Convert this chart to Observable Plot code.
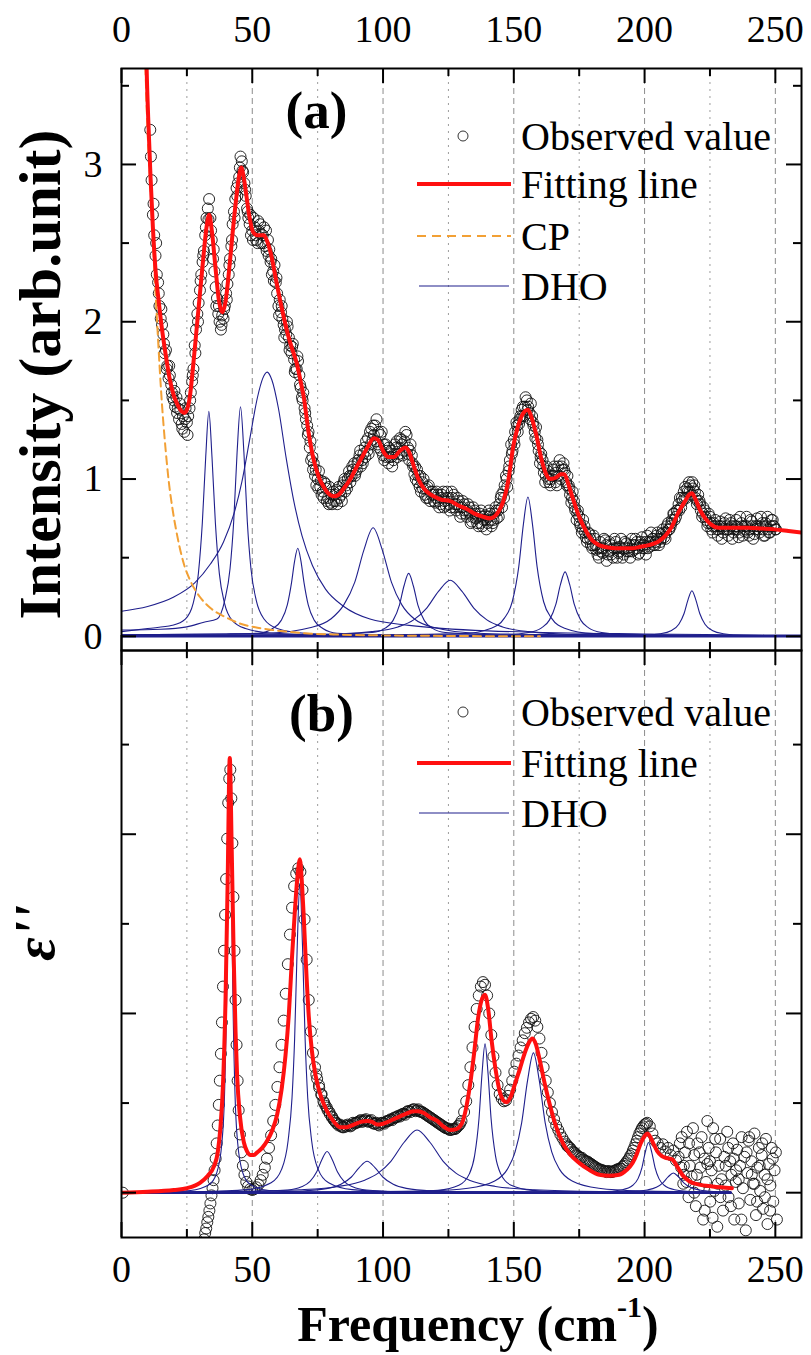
<!DOCTYPE html>
<html><head><meta charset="utf-8">
<script src="https://cdn.jsdelivr.net/npm/d3@7"></script>
<script src="https://cdn.jsdelivr.net/npm/@observablehq/plot@0.6"></script>
<style>
html,body{margin:0;padding:0;background:#fff;}
#chart{width:811px;height:1355px;position:relative;}
#chart svg{display:block;overflow:visible;}
</style></head><body><div id="chart"></div>
<script>
// ---------- axis ticks ----------
const xTicksMajor = [0, 50, 100, 150, 200, 250];
const xTicksMinor = [25, 75, 125, 175, 225];
const gridMajor = [50, 100, 150, 200, 250];
const gridMinor = [25, 75, 125, 175, 225];
const yTicksAMajor = [0, 1, 2, 3];
const yTicksAMinor = [0.5, 1.5, 2.5, 3.5];
const yTicksBMajor = [0, 2, 4];
const yTicksBMinor = [1, 3, 5];

// ---------- panel (a) observed (measurement grid 1 cm-1, three interleaved sets) ----------
const obsA1Start = 11, obsA2Start = 11.5, obsA3Start = 11.25, obsStep = 1;
const obsA1 = [
3.22,2.68,2.42,2.25,2.02,1.92,1.82,1.64,1.60,1.50,
1.52,1.38,1.35,1.30,1.36,1.45,1.62,1.85,2.05,2.20,
2.38,2.55,2.72,2.66,2.40,2.22,2.05,1.95,2.02,2.18,
2.30,2.48,2.70,2.85,2.92,3.02,2.88,2.72,2.62,2.58,
2.60,2.50,2.62,2.55,2.48,2.52,2.38,2.32,2.25,2.10,
2.06,1.98,1.92,1.90,1.80,1.76,1.70,1.66,1.52,1.45,
1.34,1.20,1.14,1.02,1.00,0.95,0.92,0.97,0.88,0.85,
0.92,0.86,0.95,0.90,0.98,0.96,1.05,1.02,1.10,1.06,
1.15,1.12,1.20,1.18,1.30,1.25,1.34,1.22,1.28,1.15,
1.22,1.10,1.18,1.12,1.20,1.16,1.25,1.18,1.28,1.12,
1.15,1.03,1.06,0.95,0.98,0.90,0.95,0.86,0.92,0.85,
0.90,0.84,0.92,0.83,0.88,0.82,0.90,0.80,0.86,0.78,
0.84,0.76,0.82,0.73,0.80,0.72,0.78,0.70,0.77,0.72,
0.78,0.72,0.82,0.80,0.88,0.92,1.02,1.05,1.22,1.25,
1.36,1.35,1.44,1.40,1.50,1.42,1.40,1.30,1.25,1.10,
1.12,0.98,1.05,0.96,1.06,0.98,1.08,1.00,1.10,0.98,
0.96,0.85,0.86,0.74,0.76,0.66,0.70,0.60,0.65,0.56,
0.62,0.52,0.60,0.53,0.61,0.52,0.58,0.50,0.60,0.53,
0.62,0.52,0.59,0.54,0.62,0.55,0.60,0.53,0.63,0.56,
0.64,0.57,0.62,0.58,0.66,0.60,0.68,0.62,0.72,0.70,
0.78,0.76,0.84,0.82,0.92,0.88,0.98,0.90,0.96,0.84,
0.86,0.76,0.80,0.70,0.76,0.66,0.74,0.64,0.73,0.66,
0.75,0.64,0.72,0.66,0.74,0.63,0.72,0.67,0.76,0.64,
0.73,0.65,0.75,0.66,0.72,0.64,0.76,0.66,0.74,0.68];
const obsA2 = [
2.90,2.55,2.30,2.10,1.98,1.80,1.72,1.66,1.52,1.46,
1.45,1.44,1.40,1.45,1.40,1.55,1.70,1.95,2.12,2.30,
2.45,2.66,2.78,2.52,2.32,2.15,2.00,2.04,2.10,2.24,
2.40,2.62,2.78,2.88,3.05,2.95,2.80,2.66,2.55,2.66,
2.52,2.58,2.50,2.60,2.45,2.46,2.30,2.36,2.18,2.14,
2.02,1.95,1.97,1.85,1.86,1.70,1.75,1.58,1.55,1.38,
1.30,1.12,1.10,0.96,1.05,0.90,0.98,0.86,0.95,0.84,
0.90,0.84,0.92,0.96,0.92,1.00,0.98,1.06,1.04,1.12,
1.08,1.16,1.24,1.16,1.32,1.28,1.38,1.20,1.30,1.12,
1.18,1.14,1.08,1.22,1.14,1.26,1.15,1.30,1.20,1.22,
1.08,1.00,1.02,0.92,1.00,0.88,0.96,0.90,0.86,0.92,
0.82,0.90,0.86,0.92,0.80,0.88,0.84,0.88,0.76,0.86,
0.78,0.84,0.72,0.82,0.75,0.70,0.80,0.74,0.68,0.80,
0.70,0.78,0.75,0.84,0.82,0.96,0.95,1.12,1.18,1.30,
1.30,1.40,1.46,1.52,1.46,1.48,1.34,1.33,1.18,1.16,
1.04,1.08,0.98,1.02,1.08,0.96,1.12,1.06,1.04,1.02,
0.90,0.92,0.80,0.80,0.70,0.74,0.63,0.66,0.58,0.64,
0.55,0.50,0.56,0.62,0.48,0.60,0.55,0.62,0.50,0.57,
0.50,0.60,0.56,0.50,0.58,0.62,0.52,0.60,0.58,0.52,
0.60,0.66,0.58,0.64,0.58,0.65,0.63,0.70,0.68,0.74,
0.74,0.80,0.88,0.86,0.95,0.92,0.96,0.94,0.88,0.90,
0.80,0.82,0.74,0.78,0.68,0.72,0.68,0.70,0.62,0.72,
0.68,0.74,0.62,0.70,0.68,0.76,0.64,0.70,0.66,0.74,
0.62,0.70,0.68,0.76,0.64,0.70,0.66,0.74,0.70];
const obsA3 = [
3.05,2.75,2.50,2.18,2.08,1.86,1.70,1.72,1.55,1.56,
1.42,1.48,1.32,1.38,1.28,1.50,1.66,1.80,2.00,2.26,
2.42,2.60,2.65,2.58,2.46,2.10,2.10,1.98,2.08,2.14,
2.36,2.52,2.66,2.80,2.98,2.96,2.84,2.70,2.68,2.52,
2.55,2.64,2.56,2.50,2.58,2.42,2.40,2.26,2.28,2.04,
2.10,1.90,2.00,1.82,1.84,1.68,1.78,1.60,1.50,1.42,
1.28,1.24,1.06,1.06,0.94,0.99,0.88,0.94,0.84,0.90,
0.86,0.93,0.88,0.86,1.00,0.94,1.02,1.08,1.02,1.10,
1.18,1.10,1.14,1.26,1.22,1.34,1.24,1.30,1.18,1.22,
1.14,1.20,1.14,1.16,1.24,1.20,1.22,1.24,1.16,1.18,
1.10,1.08,0.98,1.02,0.94,0.94,0.88,0.92,0.90,0.88,
0.86,0.88,0.82,0.88,0.84,0.92,0.82,0.84,0.82,0.82,
0.80,0.80,0.78,0.76,0.78,0.76,0.72,0.76,0.74,0.76,
0.74,0.74,0.80,0.76,0.90,0.88,1.00,1.08,1.16,1.22,
1.34,1.38,1.40,1.46,1.44,1.38,1.36,1.26,1.22,1.14,
1.08,1.02,1.00,1.00,1.02,1.04,1.02,1.08,1.06,0.96,
0.94,0.88,0.82,0.78,0.72,0.68,0.66,0.62,0.62,0.58,
0.58,0.56,0.54,0.56,0.58,0.54,0.52,0.56,0.56,0.54,
0.56,0.56,0.54,0.58,0.54,0.58,0.56,0.58,0.56,0.60,
0.56,0.60,0.62,0.60,0.62,0.62,0.66,0.66,0.68,0.72,
0.78,0.80,0.80,0.88,0.88,0.94,0.92,0.98,0.92,0.86,
0.84,0.78,0.76,0.72,0.72,0.70,0.70,0.68,0.70,0.68,
0.70,0.68,0.70,0.68,0.70,0.66,0.70,0.68,0.70,0.68,
0.70,0.68,0.70,0.70,0.68,0.72,0.68,0.70,0.70,0.68];

// ---------- panel (a) fitting line ----------
const fitA = [[9.0,4.2],[9.6,3.62],[10.2,3.3],[11.1,2.92],[12,2.6],[13,2.33],[14.3,2.12],[15.5,1.95],[17,1.78],[18.5,1.63],[20,1.53],[21.5,1.47],[23,1.43],[24,1.42],[25,1.44],[26.1,1.52],[27.4,1.72],[28.7,1.95],[30,2.18],[31.3,2.41],[32.5,2.6],[33.5,2.68],[34.6,2.57],[35.9,2.35],[37.2,2.14],[38.5,2.06],[39.8,2.13],[41.1,2.32],[42.4,2.55],[43.7,2.76],[45,2.93],[45.8,2.98],[46.6,2.93],[47.6,2.82],[48.9,2.67],[50.3,2.57],[52,2.55],[54.4,2.55],[55.5,2.52],[57,2.44],[59.5,2.23],[61.5,2.07],[63.3,1.94],[65,1.84],[67.1,1.73],[68.5,1.62],[69.7,1.52],[71.5,1.30],[73.5,1.12],[75.5,1.01],[77.3,0.95],[79,0.91],[81.2,0.89],[83,0.9],[85,0.94],[87.5,1.0],[90,1.08],[92,1.14],[94,1.2],[96.5,1.26],[98,1.25],[100.3,1.17],[102,1.14],[104.1,1.14],[106.5,1.18],[108.6,1.20],[110,1.17],[111.8,1.08],[113.5,1.0],[115.6,0.94],[117.5,0.91],[119.4,0.89],[122,0.87],[125.7,0.86],[129,0.83],[132,0.81],[135,0.78],[138.3,0.76],[141,0.75],[142.5,0.76],[144,0.79],[146,0.86],[148,1.0],[149.7,1.2],[151.5,1.33],[153,1.40],[155.4,1.44],[157,1.38],[158.6,1.28],[160.5,1.13],[162.4,1.03],[164,1.0],[166.2,1.01],[168,1.03],[169.3,1.03],[171,0.96],[172.5,0.88],[175,0.76],[177.6,0.67],[180,0.61],[182.6,0.58],[186,0.565],[189,0.56],[192,0.56],[195.3,0.56],[198.5,0.57],[201.6,0.58],[205,0.6],[208,0.64],[210.5,0.7],[213,0.79],[215.5,0.86],[217,0.9],[218.1,0.91],[219.5,0.87],[221.3,0.80],[223.2,0.75],[225.5,0.71],[228.2,0.69],[233,0.69],[239.6,0.69],[245,0.685],[249.7,0.68],[255,0.67],[260,0.66]];

// ---------- panel (a) CP ----------
const cpA = [[8.5,4.2],[9.2,3.6],[10,3.2],[11.1,2.85],[12.4,2.39],[13.9,1.91],[15.5,1.47],[16.8,1.2],[18.1,0.98],[19.6,0.8],[21.3,0.64],[23.5,0.48],[26.4,0.35],[30,0.25],[34,0.18],[40,0.12],[45.5,0.08],[52,0.055],[58,0.04],[70,0.02],[81,0.012],[100,0.006],[130,0.002],[160,0]];

// ---------- panel (a) DHO components ----------
const dhoA1 = [[0,0.03],[10,0.05],[19.4,0.07],[24.4,0.11],[27.4,0.21],[29.4,0.40],[30.9,0.72],[32.2,1.14],[33.4,1.43],[34.6,1.14],[35.9,0.72],[37.4,0.40],[39.4,0.21],[42.4,0.10],[47.4,0.05],[58,0.02],[100,0.005],[260,0]];
const dhoA2 = [[0,0.04],[15,0.045],[25,0.06],[31.5,0.09],[36.5,0.11],[39.5,0.23],[41.5,0.43],[42.9,0.73],[44.2,1.17],[45.5,1.46],[46.8,1.17],[48.1,0.73],[49.5,0.43],[51.5,0.23],[54.5,0.11],[59.5,0.05],[70,0.02],[100,0.006],[260,0]];
const dhoA3 = [[0,0.16],[10,0.19],[20,0.25],[28,0.34],[34,0.46],[39,0.60],[43,0.78],[46,0.98],[49,1.25],[52,1.52],[54,1.64],[55.7,1.68],[57.5,1.63],[60,1.45],[63,1.13],[66,0.85],[69,0.64],[73,0.45],[78,0.30],[85,0.19],[95,0.11],[110,0.07],[140,0.035],[200,0.015],[260,0.008]];
const dhoA4 = [[0,0.01],[40,0.015],[52.4,0.02],[57.8,0.05],[61,0.10],[63.4,0.20],[65,0.34],[66.2,0.48],[67.4,0.56],[68.6,0.48],[69.8,0.34],[71.4,0.20],[73.8,0.10],[77,0.05],[82.4,0.02],[100,0.01],[260,0]];
const dhoA5 = [[0,0.01],[40,0.015],[56,0.02],[72,0.055],[80,0.11],[85,0.20],[89.2,0.345],[92.7,0.55],[96.2,0.69],[99.7,0.55],[103.2,0.345],[107.2,0.20],[112,0.11],[120,0.055],[136,0.02],[170,0.01],[260,0]];
const dhoA6 = [[0,0.005],[70,0.01],[95.8,0.024],[100.8,0.052],[103.8,0.10],[106.3,0.20],[108,0.32],[109.8,0.40],[111.6,0.32],[113.3,0.20],[115.8,0.10],[118.8,0.052],[123.8,0.024],[150,0.008],[260,0]];
const dhoA7 = [[0,0.005],[75,0.011],[95.7,0.03],[105.7,0.06],[111.7,0.105],[116.7,0.18],[121.2,0.286],[125.7,0.357],[130.2,0.286],[134.7,0.18],[139.7,0.105],[145.7,0.06],[155.7,0.03],[175.7,0.011],[260,0.002]];
const dhoA8 = [[0,0.005],[100,0.01],[130.4,0.017],[141.4,0.052],[146.4,0.116],[149.4,0.22],[151.9,0.443],[153.65,0.71],[155.4,0.886],[157.15,0.71],[158.9,0.443],[161.4,0.22],[164.4,0.116],[169.4,0.052],[180.4,0.017],[210,0.006],[260,0.002]];
const dhoA9 = [[0,0.003],[120,0.006],[144.6,0.008],[155.6,0.024],[160.6,0.054],[163.6,0.103],[166.1,0.205],[167.85,0.33],[169.6,0.41],[171.35,0.33],[173.1,0.205],[175.6,0.103],[178.6,0.054],[183.6,0.024],[194.6,0.008],[260,0.002]];
const dhoA10 = [[0,0.002],[160,0.004],[198.1,0.006],[206.1,0.017],[210.1,0.036],[213.1,0.077],[215.1,0.145],[216.6,0.232],[218.1,0.29],[219.6,0.232],[221.1,0.145],[223.1,0.077],[226.1,0.036],[230.1,0.017],[238.1,0.006],[260,0.003]];
const dhoA0 = [[0,0],[260,0]];

// ---------- panel (b) observed ----------
const obsB = [[0.5,0.0],
[31.6,-0.52],[32.0,-0.45],[32.4,-0.40],[32.8,-0.33],[33.2,-0.27],[33.6,-0.2],[34.0,-0.12],[34.4,-0.03],[34.8,0.05],[35.2,0.14],[35.6,0.25],[36.0,0.38],[36.4,0.55],[36.8,0.75],[37.2,0.98],[37.6,1.25],[38.0,1.55],[38.4,1.9],[38.8,2.3],[39.2,2.7],[39.6,3.1],[40.0,3.5],[40.4,3.95],[40.8,4.35],[41.2,4.62],[41.6,4.72],[42.0,4.4],[42.4,3.9],[42.8,3.3],[43.2,2.7],[43.6,2.15],[44.0,1.65],[44.4,1.25],[44.8,0.92],[45.3,0.65],[45.8,0.45],[46.4,0.3],[47.0,0.2],[47.7,0.12],[48.4,0.07],[49.2,0.04],[50.0,0.03],[50.8,0.04],[51.6,0.06],[52.4,0.09],[53.2,0.14],[54.0,0.2],[54.8,0.28],[55.6,0.38],[56.4,0.5],[57.2,0.64],[58.0,0.8],[58.8,0.98],[59.6,1.18],[60.4,1.4],[61.2,1.65],[62.0,1.92],[62.8,2.22],[63.6,2.55],[64.4,2.88],[65.2,3.18],[66.0,3.42],[66.8,3.56],[67.6,3.62],[68.4,3.58],[69.2,3.38],[70.0,3.05],[70.8,2.6],[71.6,2.15],[72.4,1.8],[73.2,1.56],[74.0,1.4],[74.8,1.27],[75.6,1.17],[76.4,1.09],[77.2,1.02],[78.0,0.97],[78.8,0.92],[79.6,0.88],[80.4,0.84],[81.2,0.81],[82,0.78],[83,0.75],[84,0.74],[85,0.73],[86,0.74],[87,0.75],[88,0.75],[89,0.77],[90,0.78],[91,0.8],[92,0.79],[93,0.81],[94,0.80],[95,0.80],[96,0.78],[97,0.77],[98,0.76],[99,0.77],[100,0.78],[101,0.79],[102,0.8],[103,0.82],[104,0.83],[105,0.84],[106,0.86],[107,0.87],[108,0.88],[109,0.9],[110,0.91],[111,0.92],[112,0.93],[113,0.92],[114,0.91],[115,0.9],[116,0.88],[117,0.86],[118,0.84],[119,0.82],[120,0.8],[121,0.78],[122,0.76],[123,0.74],[124,0.72],[125,0.71],[126,0.70],[127,0.71],[128,0.72],[129,0.75],[130,0.8],[131,0.9],[131.8,1.02],[132.6,1.2],[133.4,1.4],[134.2,1.62],[135,1.85],[135.8,2.05],[136.6,2.2],[137.4,2.3],[138.2,2.35],[139,2.32],[139.8,2.2],[140.6,2.0],[141.4,1.76],[142.2,1.52],[143,1.34],[143.8,1.2],[144.6,1.1],[145.4,1.05],[146.2,1.02],[147,1.03],[147.8,1.08],[148.6,1.15],[149.4,1.25],[150.2,1.35],[151,1.44],[151.8,1.53],[152.6,1.62],[153.4,1.7],[154.2,1.78],[155,1.84],[155.8,1.9],[156.6,1.94],[157.4,1.96],[158.2,1.92],[159,1.85],[159.8,1.72],[160.6,1.56],[161.4,1.4],[162.2,1.25],[163,1.12],[163.8,1.0],[164.6,0.9],[165.4,0.82],[166.2,0.75],[167,0.7],[167.8,0.65],[168.6,0.61],[169.4,0.57],[170.2,0.54],[171,0.51],[172,0.48],[173,0.45],[174,0.42],[175,0.4],[176,0.39],[177,0.36],[178,0.35],[179,0.33],[180,0.31],[181,0.29],[182,0.27],[183,0.26],[184,0.25],[185,0.24],[186,0.24],[187,0.23],[188,0.24],[189,0.25],[190,0.26],[191,0.27],[192,0.3],[193,0.34],[194,0.38],[195,0.43],[196,0.5],[197,0.58],[198,0.66],[199,0.72],[200,0.76],[201,0.78],[202,0.74],[203,0.66],[204,0.58],[205,0.55],[206,0.5],[207,0.54],[208,0.46],[209,0.5],[210,0.42],[211,0.47],[212,0.36],[213,0.4],[214,0.28],[215,0.3],[216,0.12],
[74.5,1.32],[75.5,1.2],[76.5,1.1],[77.5,1.0],[78.5,0.95],[79.5,0.9],[80.5,0.85],[81.5,0.8],[82.5,0.77],[83.5,0.76],[84.5,0.73],[85.5,0.75],[86.5,0.76],[87.5,0.74],[88.5,0.78],[89.5,0.78],[90.5,0.79],[91.5,0.81],[92.5,0.80],[93.5,0.82],[94.5,0.79],[95.5,0.81],[96.5,0.77],[97.5,0.78],[98.5,0.75],[99.5,0.78],[100.5,0.77],[101.5,0.80],[102.5,0.81],[103.5,0.81],[104.5,0.84],[105.5,0.85],[106.5,0.85],[107.5,0.88],[108.5,0.87],[109.5,0.91],[110.5,0.90],[111.5,0.93],[112.5,0.91],[113.5,0.93],[114.5,0.90],[115.5,0.89],[116.5,0.87],[117.5,0.85],[118.5,0.83],[119.5,0.81],[120.5,0.79],[121.5,0.77],[122.5,0.75],[123.5,0.73],[124.5,0.72],[125.5,0.70],[126.5,0.71],[127.5,0.71],[128.5,0.74],[129.5,0.77],
[170.5,0.52],[171.5,0.50],[172.5,0.46],[173.5,0.44],[174.5,0.41],[175.5,0.39],[176.5,0.37],[177.5,0.35],[178.5,0.34],[179.5,0.32],[180.5,0.30],[181.5,0.28],[182.5,0.26],[183.5,0.25],[184.5,0.24],[185.5,0.23],[186.5,0.24],[187.5,0.23],[188.5,0.24],[189.5,0.26],[190.5,0.27],[191.5,0.29],[192.5,0.32],[193.5,0.36],[194.5,0.41],[195.5,0.47],[196.5,0.54],[197.5,0.62],[198.5,0.69],[199.5,0.74],[200.5,0.77],
[213.5,0.55],[214.2,0.62],[214.8,0.1],[215.5,0.45],[216.2,0.68],[216.8,-0.05],[217.3,0.3],[218,0.18],[218.5,0.72],[219,0.42],[219.6,-0.15],[220.2,0.55],[220.7,0.05],[221.3,0.28],[221.8,0.62],[222.4,-0.3],[222.9,0.38],[223.5,0.12],[224,0.8],[224.5,0.5],[225.1,-0.1],[225.6,0.25],[226.2,0.72],[226.7,0.02],[227.3,0.45],[227.8,-0.38],[228.3,0.3],[228.9,0.6],[229.4,0.15],[230,-0.2],[230.5,0.4],[231,0.08],[231.6,0.68],[232.1,-0.05],[232.7,0.35],[233.2,0.2],[233.8,0.55],[234.3,-0.3],[234.9,0.12],[235.4,0.48],[236,-0.12],[236.5,0.3],[237.1,0.62],[237.6,0.05],[238.2,0.4],[238.7,-0.42],[239.3,0.22],[239.8,0.58],[240.4,-0.08],[240.9,0.35],[241.5,0.1],[242,0.66],[242.6,-0.25],[243.1,0.28],[243.7,0.5],[244.2,0.02],[244.8,0.42],[245.3,-0.18],[245.9,0.2],[246.4,0.6],[247,-0.35],[247.5,0.32],[248.1,0.08],[248.6,0.5],[249.2,-0.1],[249.7,0.25],[250.2,0.45],[250.6,-0.3],
[215,0.2],[217,0.55],[219,0.0],[221,0.45],[223,-0.2],[225,0.35],[227,0.6],[229,-0.05],[231,0.3],[233,-0.15],[235,0.25],[237,-0.3],[239,0.45],[241,0.2],[243,-0.1],[245,0.55],[247,0.15],[249,0.38],[220,0.2],[224,0.32],[228,0.1],[232,0.5],[236,0.15],[240,0.62],[244,0.3],[248,-0.2],[226,-0.28],[234,0.38],[242,0.1],[246,-0.05]];

// ---------- panel (b) fitting line ----------
const fitB = [[0,0],[10,0.01],[20,0.03],[25,0.05],[30,0.11],[33,0.19],[35.3,0.29],[36.8,0.45],[37.8,0.72],[38.8,1.2],[39.8,2.19],[40.6,3.5],[41.4,4.85],[42.1,3.9],[42.9,2.63],[43.6,1.8],[44.2,1.31],[45.3,0.85],[46.8,0.56],[48,0.46],[49.3,0.42],[50.6,0.42],[51.9,0.45],[53.8,0.5],[55.7,0.58],[57.7,0.7],[59.5,0.87],[61.2,1.15],[62.7,1.53],[64,2.0],[65.2,2.63],[66.3,3.15],[67.2,3.5],[68.2,3.72],[69,3.45],[69.7,3.07],[70.6,2.5],[71.6,1.97],[72.8,1.58],[74.2,1.31],[76.3,1.07],[78.6,0.91],[81,0.8],[83.7,0.73],[86,0.73],[88.8,0.76],[91.5,0.79],[93.9,0.80],[95.8,0.79],[97.7,0.76],[100,0.77],[104.1,0.82],[108,0.87],[111.8,0.91],[113.5,0.91],[115.6,0.89],[118,0.84],[120.7,0.80],[123,0.74],[125.8,0.70],[128,0.71],[130.1,0.77],[131.8,0.95],[133.3,1.21],[134.8,1.55],[136.4,1.96],[137.7,2.15],[139,2.21],[140.2,2.05],[141.5,1.70],[143,1.38],[144.7,1.12],[146,1.03],[147.2,1.01],[148.8,1.07],[150.4,1.21],[152.3,1.38],[154.2,1.56],[155.7,1.67],[157.1,1.72],[158.5,1.65],[159.9,1.48],[161.8,1.22],[163.7,0.99],[166,0.75],[168.8,0.55],[171.5,0.43],[175.1,0.33],[178.5,0.26],[182.7,0.20],[186.5,0.19],[190.3,0.20],[193,0.25],[195.4,0.33],[197,0.43],[198.5,0.55],[200,0.63],[201.1,0.66],[202.2,0.62],[203.5,0.54],[204.9,0.46],[206.5,0.41],[208,0.39],[209.5,0.38],[210.6,0.37],[212.5,0.29],[214.4,0.20],[217,0.13],[220.8,0.09],[226,0.07],[233.4,0.05]];

// ---------- panel (b) DHO components ----------
const dhoB1 = [[0,0],[11.4,0.006],[26.4,0.025],[33.4,0.088],[36.4,0.22],[38.4,0.56],[39.4,1.1],[40.3,2.375],[40.85,3.8],[41.4,4.75],[41.95,3.8],[42.5,2.375],[43.4,1.1],[44.4,0.56],[46.4,0.22],[49.4,0.088],[56.4,0.025],[71.4,0.006],[233,0]];
const dhoB2 = [[0,0],[28.2,0.009],[48.2,0.034],[57.2,0.11],[61.2,0.26],[63.7,0.58],[65.2,1.06],[66.2,1.72],[67.2,2.76],[68.2,3.45],[69.2,2.76],[70.2,1.72],[71.2,1.06],[72.7,0.58],[75.2,0.26],[79.2,0.11],[88.2,0.034],[108.2,0.009],[233,0]];
const dhoB3 = [[0,0],[40,0.01],[58,0.022],[63.6,0.03],[68.6,0.063],[72.1,0.126],[74.6,0.23],[76.6,0.368],[78.6,0.46],[80.6,0.368],[82.6,0.23],[85.1,0.126],[88.6,0.063],[93.6,0.03],[105,0.012],[140,0.004],[233,0]];
const dhoB4 = [[0,0],[40,0.006],[53.9,0.0077],[68.9,0.019],[78.9,0.048],[83.9,0.093],[87.9,0.175],[90.9,0.28],[93.9,0.35],[96.9,0.28],[99.9,0.175],[103.9,0.093],[108.9,0.048],[118.9,0.019],[133.9,0.0077],[233,0]];
const dhoB5 = [[0,0],[30,0.01],[43,0.014],[68,0.033],[83,0.07],[93,0.14],[98,0.215],[103,0.35],[108,0.56],[113,0.70],[118,0.56],[123,0.35],[128,0.215],[133,0.14],[143,0.07],[158,0.033],[183,0.014],[233,0.005]];
const dhoB6 = [[0,0],[60,0.004],[104,0.007],[121,0.026],[129,0.082],[133,0.21],[135,0.41],[136.7,0.83],[137.85,1.33],[139,1.66],[140.15,1.33],[141.3,0.83],[143,0.41],[145,0.21],[149,0.082],[157,0.026],[174,0.007],[233,0.002]];
const dhoB7 = [[0,0],[80,0.008],[117.5,0.02],[132.5,0.049],[142.5,0.128],[147.5,0.26],[150.5,0.455],[153,0.78],[155.25,1.25],[157.5,1.56],[159.75,1.25],[162,0.78],[164.5,0.455],[167.5,0.26],[172.5,0.128],[182.5,0.049],[197.5,0.02],[233,0.006]];
const dhoB8 = [[0,0],[150,0.004],[183.5,0.011],[191.5,0.033],[195.5,0.083],[197.5,0.157],[199,0.28],[200.25,0.45],[201.5,0.56],[202.75,0.45],[204,0.28],[205.5,0.157],[207.5,0.083],[211.5,0.033],[219.5,0.011],[233,0.004]];
const dhoB9 = [[0,0],[160,0.005],[195,0.013],[201,0.03],[204.5,0.06],[207,0.11],[209,0.176],[211,0.22],[213,0.176],[215,0.11],[217.5,0.06],[221,0.03],[227,0.013],[233,0.008]];
const dhoB0 = [[0,0],[233,0]];

// ---------- styling ----------
const FONT = "'Liberation Serif','Times New Roman',Times,serif";
const RED = "#ff1010", BLUE = "#1f1f8c", ORANGE = "#f2a035", CIRC = "#111";

const toRows = (arr, k) => arr.map(([x, y]) => ({x, y, k}));
const obsARows = [
  ...obsA1.map((v, i) => ({x: obsA1Start + i * obsStep, y: v})),
  ...obsA2.map((v, i) => ({x: obsA2Start + i * obsStep, y: v})),
  ...obsA3.map((v, i) => ({x: obsA3Start + i * obsStep, y: v}))
];
const dhoARows = [dhoA1,dhoA2,dhoA3,dhoA4,dhoA5,dhoA6,dhoA7,dhoA8,dhoA9,dhoA10].flatMap((a, i) => toRows(a, i));
const dhoBRows = [dhoB1,dhoB2,dhoB3,dhoB4,dhoB5,dhoB6,dhoB7,dhoB8,dhoB9].flatMap((a, i) => toRows(a, i));

const ML = 121, MR = 10, W = 811;
const FW = W - ML - MR;

function tickMarks(fh, yMaj, yMin) {
  const T = 15, t = 8;
  return [
    Plot.ruleX(xTicksMajor, {insetTop: fh - T, strokeWidth: 2}),
    Plot.ruleX(xTicksMajor, {insetBottom: fh - T, strokeWidth: 2}),
    Plot.ruleX(xTicksMinor, {insetTop: fh - t, strokeWidth: 2}),
    Plot.ruleX(xTicksMinor, {insetBottom: fh - t, strokeWidth: 2}),
    Plot.ruleY(yMaj, {insetRight: FW - T, strokeWidth: 2}),
    Plot.ruleY(yMaj, {insetLeft: FW - T, strokeWidth: 2}),
    Plot.ruleY(yMin, {insetRight: FW - t, strokeWidth: 2}),
    Plot.ruleY(yMin, {insetLeft: FW - t, strokeWidth: 2}),
  ];
}
function gridMarks() {
  return [
    Plot.ruleX(gridMinor, {stroke: "#9c9c9c", strokeDasharray: "2,5", strokeWidth: 1}),
    Plot.ruleX(gridMajor, {stroke: "#8c8c8c", strokeDasharray: "6,4", strokeWidth: 1}),
  ];
}

// ---------- panel (a) ----------
const HA = 650, MTA = 68;
const plotA = Plot.plot({
  width: W, height: HA, marginTop: MTA, marginBottom: 0, marginLeft: ML, marginRight: MR,
  style: {fontFamily: FONT, fontSize: "38px", background: "transparent", overflow: "visible", color: "#000"},
  x: {domain: [0, 260]},
  y: {domain: [-0.09, 3.61]},
  marks: [
    ...gridMarks(),
    Plot.dot(obsARows, {x: "x", y: "y", r: 5.5, stroke: CIRC, strokeWidth: 0.9, fill: "none", clip: true}),
    Plot.line(dhoARows, {x: "x", y: "y", z: "k", stroke: BLUE, strokeWidth: 1.1, curve: "monotone-x", clip: true}),
    Plot.line(dhoA0, {x: d => d[0], y: d => d[1], stroke: BLUE, strokeWidth: 2.4, clip: true}),
    Plot.line(cpA, {x: d => d[0], y: d => d[1], stroke: ORANGE, strokeWidth: 2, strokeDasharray: "8,5", curve: "monotone-x", clip: true}),
    Plot.line(fitA, {x: d => d[0], y: d => d[1], stroke: RED, strokeWidth: 4, curve: "monotone-x", clip: true}),
    ...tickMarks(HA - MTA, yTicksAMajor, yTicksAMinor),
    Plot.frame({stroke: "#000", strokeWidth: 2}),
    Plot.axisX({anchor: "top", ticks: xTicksMajor, tickSize: 0, tickPadding: 27, fontSize: 38, label: null}),
    Plot.axisY({anchor: "left", ticks: yTicksAMajor, tickFormat: d3.format("d"), tickSize: 0, tickPadding: 19, fontSize: 38, label: null}),
    Plot.text(["Intensity (arb.unit)"], {text: d => d, frameAnchor: "left", dx: -81, dy: 15, rotate: -90, fontSize: 60, fontWeight: "bold", lineAnchor: "middle", textAnchor: "middle"}),
    Plot.text(["(a)"], {text: d => d, frameAnchor: "top-left", dx: 195, dy: 43, fontSize: 53, fontWeight: "bold", lineAnchor: "middle", textAnchor: "middle"}),
  ]
});

// ---------- panel (b) ----------
const HB = 705, MBB = 118;
const plotB = Plot.plot({
  width: W, height: HB, marginTop: 0, marginBottom: MBB, marginLeft: ML, marginRight: MR,
  style: {fontFamily: FONT, fontSize: "38px", background: "transparent", overflow: "visible", color: "#000"},
  x: {domain: [0, 260]},
  y: {domain: [-0.5, 6.05], axis: null},
  marks: [
    ...gridMarks(),
    Plot.dot(obsB, {x: d => d[0], y: d => d[1], r: 5.5, stroke: CIRC, strokeWidth: 0.9, fill: "none", clip: true}),
    Plot.line(dhoBRows, {x: "x", y: "y", z: "k", stroke: BLUE, strokeWidth: 1.1, curve: "monotone-x", clip: true}),
    Plot.line(dhoB0, {x: d => d[0], y: d => d[1], stroke: BLUE, strokeWidth: 2.4, clip: true}),
    Plot.line(fitB, {x: d => d[0], y: d => d[1], stroke: RED, strokeWidth: 4, curve: "monotone-x", clip: true}),
    ...tickMarks(HB - MBB, yTicksBMajor, yTicksBMinor),
    Plot.frame({stroke: "#000", strokeWidth: 2}),
    Plot.axisX({anchor: "bottom", ticks: xTicksMajor, tickSize: 0, tickPadding: 18, fontSize: 38, label: null}),
    Plot.text(["ε''"], {text: d => d, frameAnchor: "left", dx: -86, dy: -11, rotate: -90, fontSize: 58, fontWeight: "bold", fontStyle: "italic", lineAnchor: "middle", textAnchor: "middle"}),
    Plot.text(["(b)"], {text: d => d, frameAnchor: "top-left", dx: 200, dy: 64, fontSize: 53, fontWeight: "bold", lineAnchor: "middle", textAnchor: "middle"}),
  ]
});

// ---------- in-plot legends ----------
function legend(svg, items) {
  const g = d3.select(svg).append("g").attr("font-family", FONT).attr("font-size", 40).attr("text-anchor", "start");
  items.forEach((it) => {
    const y = it.y;
    if (it.type === "dot") g.append("circle").attr("cx", 463).attr("cy", y).attr("r", 5).attr("fill", "none").attr("stroke", "#333").attr("stroke-width", 1);
    else g.append("line").attr("x1", it.x1 || 417).attr("x2", it.x2 || 511).attr("y1", y).attr("y2", y)
      .attr("stroke", it.color).attr("stroke-width", it.w).attr("stroke-dasharray", it.dash || null);
    g.append("text").attr("x", 521).attr("y", y).attr("text-anchor", "start").attr("dominant-baseline", "central").attr("fill", "#000").text(it.label);
  });
}
legend(plotA, [
  {type: "dot", y: 136, label: "Observed value"},
  {type: "line", y: 184, color: RED, w: 4, label: "Fitting line"},
  {type: "line", y: 236, color: ORANGE, w: 2, dash: "9,6", label: "CP"},
  {type: "line", y: 286, color: BLUE, w: 1.2, x1: 419, x2: 509, label: "DHO"},
]);
legend(plotB, [
  {type: "dot", y: 62, label: "Observed value"},
  {type: "line", y: 113, color: RED, w: 4, label: "Fitting line"},
  {type: "line", y: 163, color: BLUE, w: 1.2, x1: 419, x2: 509, label: "DHO"},
]);

// x-axis title with superscript
const xt = d3.select(plotB).append("text").attr("x", 478).attr("y", 674).attr("text-anchor", "middle")
  .attr("dominant-baseline", "central").attr("font-family", FONT).attr("font-weight", "bold").attr("font-size", 50).attr("fill", "#000");
xt.append("tspan").text("Frequency (cm");
xt.append("tspan").attr("font-size", 30).attr("dy", -18).text("-1");
xt.append("tspan").attr("dy", 18).text(")");

const root = document.getElementById("chart");
root.appendChild(plotA);
root.appendChild(plotB);
</script></body></html>
